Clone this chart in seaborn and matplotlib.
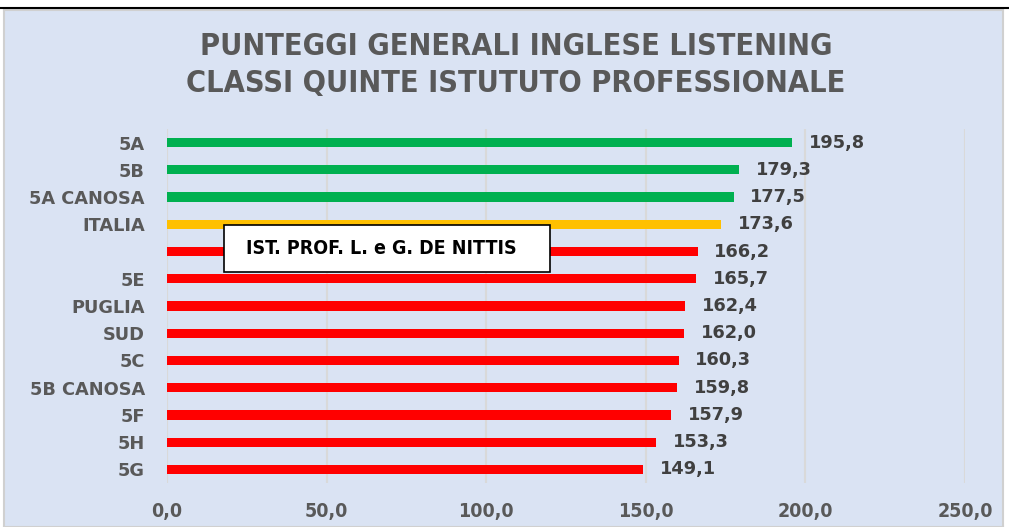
import matplotlib
matplotlib.use("Agg")
import matplotlib.pyplot as plt
import seaborn as sns
import pandas as pd
from matplotlib.patches import Rectangle
from matplotlib.lines import Line2D
from matplotlib import font_manager

categories = ["5A", "5B", "5A CANOSA", "ITALIA", " ", "5E", "PUGLIA", "SUD",
              "5C", "5B CANOSA", "5F", "5H", "5G"]
values = [195.8, 179.3, 177.5, 173.6, 166.2, 165.7, 162.4, 162.0,
          160.3, 159.8, 157.9, 153.3, 149.1]
colors = ["#00B050", "#00B050", "#00B050", "#FFC000", "#FF0000", "#FF0000",
          "#FF0000", "#FF0000", "#FF0000", "#FF0000", "#FF0000", "#FF0000", "#FF0000"]
xticks = [0, 50, 100, 150, 200, 250]
xtick_labels = ["0,0", "50,0", "100,0", "150,0", "200,0", "250,0"]
title = "PUNTEGGI GENERALI INGLESE LISTENING\nCLASSI QUINTE ISTUTUTO PROFESSIONALE"
box_text = "IST. PROF. L. e G. DE NITTIS"

sns.set_theme(style="white")
plt.rcParams['font.family'] = ['DejaVu Sans']

names = {f.name for f in font_manager.fontManager.ttflist}
if 'Liberation Sans Narrow' in names:
    NARROW = dict(fontfamily='Liberation Sans Narrow')
else:
    NARROW = dict(fontfamily='DejaVu Sans', fontstretch='condensed')

df = pd.DataFrame({"cat": categories, "val": values})

W, H = 1009, 527
fig = plt.figure(figsize=(W/100, H/100), dpi=100, facecolor="white")
bg = fig.add_axes([4/W, 0, 999/W, 517/H])
bg.set_facecolor("#DAE3F3")
bg.set_xticks([]); bg.set_yticks([])
for s in bg.spines.values():
    s.set_color("#D0D0D0"); s.set_linewidth(1.5)
fig.lines.append(Line2D([0, 1], [519/H, 519/H], transform=fig.transFigure,
                        color="black", lw=1.5))

ax = fig.add_axes([167/W, 44/H, 798/W, 354/H])
ax.set_facecolor("none")
sns.barplot(data=df, y="cat", x="val", hue="cat", palette=colors, legend=False,
            orient="h", width=0.34, ax=ax, saturation=1, linewidth=0)

ax.set_xlim(0, 250)
ax.set_xticks(xticks)
ax.set_xticklabels(xtick_labels, fontsize=14, fontweight="bold",
                   color="#595959", **NARROW)
ax.set_xlabel("")
ax.set_ylabel("")
ax.tick_params(axis="x", length=0, pad=14)
ax.tick_params(axis="y", length=0, pad=16)
for lab in ax.get_yticklabels():
    lab.set_fontsize(12.8)
    lab.set_fontweight("bold")
    lab.set_color("#595959")
ax.grid(axis="x", color="#D9D9D9", lw=1.5)
ax.set_axisbelow(True)
for s in ax.spines.values():
    s.set_visible(False)

for cont in ax.containers:
    ax.bar_label(cont, labels=[f"{v:.1f}".replace(".", ",") for v in cont.datavalues],
                 padding=12, fontsize=12.8, fontweight="bold", color="#404040")

fig.text(516/W, 1 - 65/H, title, ha="center", va="center",
         fontsize=22, fontweight="bold", color="#595959", linespacing=1.38, **NARROW)

fig.patches.append(Rectangle((224/W, 1 - 272/H), 326/W, 47/H, transform=fig.transFigure,
                             facecolor="white", edgecolor="black", lw=1.2, zorder=5))
fig.text(246/W, 1 - 249/H, box_text, ha="left", va="center",
         fontsize=14, fontweight="bold", color="black", zorder=6, **NARROW)

fig.savefig("out.png", dpi=100)
